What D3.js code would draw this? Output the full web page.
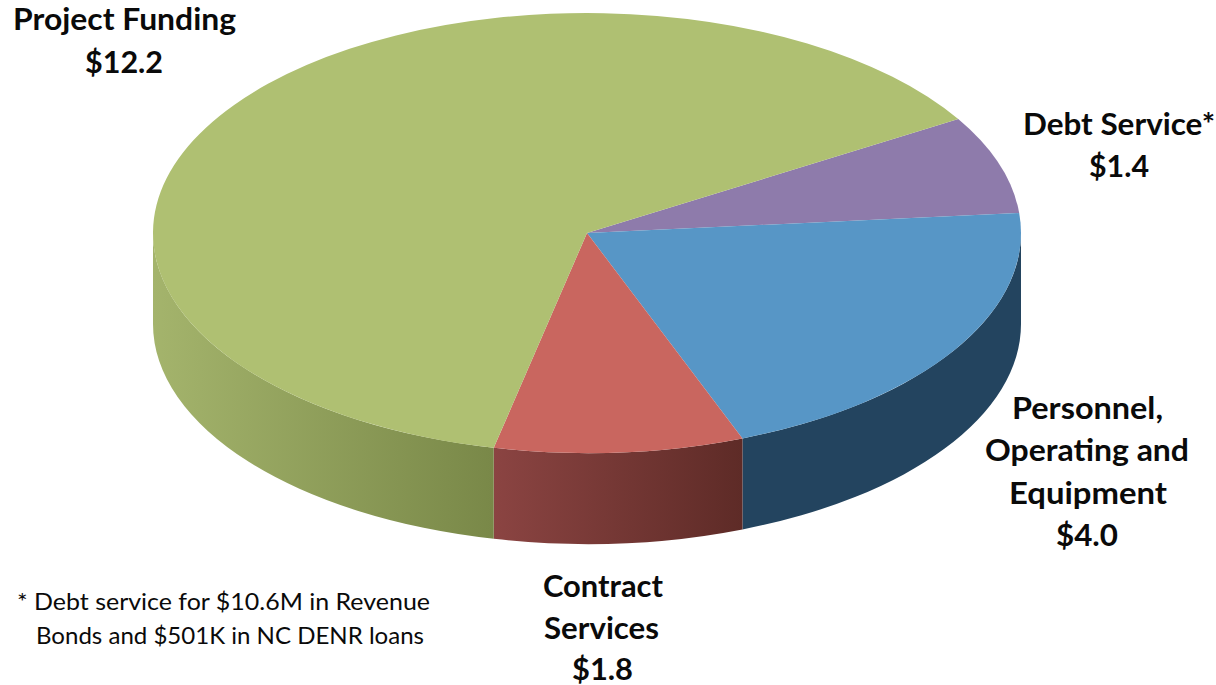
<!DOCTYPE html>
<html>
<head>
<meta charset="utf-8">
<style>
html,body{margin:0;padding:0;background:#fff;}
svg{display:block;}
text{font-family:Lato,"Open Sans",sans-serif;fill:#0a0a0a;}
.label{font-weight:700;font-size:29.5px;text-anchor:middle;}
.note{font-size:24px;}
</style>
<script src="https://cdnjs.cloudflare.com/ajax/libs/d3/7.8.5/d3.min.js"></script>
</head>
<body>
<svg id="chart" width="1216" height="685"></svg>
<script>
// Budget slices in millions of dollars, clockwise from the upper right
const categories = ["Debt Service", "Personnel, Operating and Equipment", "Contract Services", "Project Funding"];
const values = [1.4, 4.0, 1.8, 12.2];
const topColors = ["#8e7bab", "#5796c6", "#c9665f", "#afc072"];
const wallColors = [
  ["#5f4f75", "#5f4f75"],
  ["#23445f", "#23445f"],
  ["#8b4442", "#5e2b27"],
  ["#a4b46c", "#798848"]
];
const labelText = [
  ["Debt Service*", "$1.4"],
  ["Personnel,", "Operating and", "Equipment", "$4.0"],
  ["Contract", "Services", "$1.8"],
  ["Project Funding", "$12.2"]
];
const footnoteText = [
  "* Debt service for $10.6M in Revenue",
  "Bonds and $501K in NC DENR loans"
];

// Text placement: centre x, baseline y and fitted width for each line
const labelLayout = [
  [[1119, 135, 192], [1119, 177, 60]],
  [[1087.5, 419, 151], [1087, 461, 204], [1088, 504, 158], [1087, 546, 62]],
  [[603, 597, 120], [601.5, 639, 115], [602.5, 680, 61]],
  [[124.5, 30, 223], [124, 73, 78]]
];
const footnoteLayout = [[17, 610, 413], [36, 644, 388]];

// Tilted disc geometry
const cx = 587, cy = 233, rx = 434, ry = 220, depth = 91;
const startAngle = 58.8 * Math.PI / 180;

const svg = d3.select("#chart");
const defs = svg.append("defs");

const pie = d3.pie().sort(null).startAngle(startAngle).endAngle(startAngle + 2 * Math.PI);
const slices = pie(values);

const px = a => cx + rx * Math.sin(a);
const py = a => cy - ry * Math.cos(a);

// The wall is visible only along the near half of the rim (PI/2 to 3PI/2)
function visibleRange(d) {
  const ranges = [];
  [0, 2 * Math.PI].forEach(shift => {
    const a0 = Math.max(d.startAngle, Math.PI / 2 + shift);
    const a1 = Math.min(d.endAngle, 3 * Math.PI / 2 + shift);
    if (a1 > a0) ranges.push([a0, a1]);
  });
  return ranges;
}

function wallPath([a0, a1]) {
  return `M${px(a0)},${py(a0)}` +
    `A${rx},${ry} 0 0 1 ${px(a1)},${py(a1)}` +
    `L${px(a1)},${py(a1) + depth}` +
    `A${rx},${ry} 0 0 0 ${px(a0)},${py(a0) + depth}Z`;
}

// Walls
const walls = svg.append("g");
slices.forEach((d, i) => {
  visibleRange(d).forEach((range, j) => {
    const xs = [px(range[0]), px(range[1])];
    const id = `wall-${i}-${j}`;
    const grad = defs.append("linearGradient")
      .attr("id", id)
      .attr("gradientUnits", "userSpaceOnUse")
      .attr("x1", d3.min(xs)).attr("x2", d3.max(xs))
      .attr("y1", 0).attr("y2", 0);
    grad.append("stop").attr("offset", 0).attr("stop-color", wallColors[i][0]);
    grad.append("stop").attr("offset", 1).attr("stop-color", wallColors[i][1]);
    walls.append("path").attr("d", wallPath(range)).attr("fill", `url(#${id})`);
  });
});

// Top face: a circular pie flattened vertically
const arc = d3.arc().innerRadius(0).outerRadius(rx);
svg.append("g")
  .attr("transform", `translate(${cx},${cy}) scale(1,${ry / rx})`)
  .selectAll("path")
  .data(slices)
  .join("path")
  .attr("d", arc)
  .attr("fill", (d, i) => topColors[i]);

// Slice labels, one text element per line
labelText.forEach((lines, i) => {
  lines.forEach((s, k) => {
    const [x, y, w] = labelLayout[i][k];
    svg.append("text")
      .attr("class", "label")
      .attr("x", x).attr("y", y)
      .attr("textLength", w)
      .attr("lengthAdjust", "spacingAndGlyphs")
      .text(s);
  });
});

// Footnote
footnoteText.forEach((s, i) => {
  const [x, y, w] = footnoteLayout[i];
  svg.append("text")
    .attr("class", "note")
    .attr("x", x).attr("y", y)
    .attr("textLength", w)
    .attr("lengthAdjust", "spacingAndGlyphs")
    .text(s);
});
</script>
</body>
</html>
